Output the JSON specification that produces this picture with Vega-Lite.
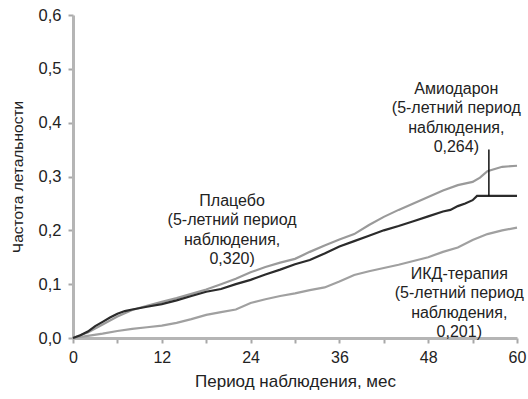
{
  "$schema": "https://vega.github.io/schema/vega-lite/v6.json",
  "width": 444,
  "height": 323,
  "autosize": "none",
  "padding": {"left": 73, "top": 15, "right": 11, "bottom": 61},
  "config": {
    "view": {"stroke": null},
    "font": "Liberation Sans",
    "axis": {
      "domainColor": "#b5b5b5", "domainWidth": 3,
      "tickColor": "#a8a8a8", "tickWidth": 2, "tickSize": 5,
      "labelFont": "Liberation Sans", "labelFontSize": 16, "labelColor": "#222",
      "titleFont": "Liberation Sans", "titleFontSize": 17, "titleFontWeight": "normal", "titleColor": "#222",
      "grid": false
    }
  },
  "datasets": {
    "curves": [
      {"series": "Плацебо", "month": 0, "rate": 0},
      {"series": "Плацебо", "month": 2, "rate": 0.01},
      {"series": "Плацебо", "month": 4, "rate": 0.025},
      {"series": "Плацебо", "month": 6, "rate": 0.04},
      {"series": "Плацебо", "month": 8, "rate": 0.052},
      {"series": "Плацебо", "month": 10, "rate": 0.06},
      {"series": "Плацебо", "month": 12, "rate": 0.067},
      {"series": "Плацебо", "month": 14, "rate": 0.074},
      {"series": "Плацебо", "month": 16, "rate": 0.082},
      {"series": "Плацебо", "month": 18, "rate": 0.09},
      {"series": "Плацебо", "month": 20, "rate": 0.1},
      {"series": "Плацебо", "month": 22, "rate": 0.11},
      {"series": "Плацебо", "month": 24, "rate": 0.122},
      {"series": "Плацебо", "month": 26, "rate": 0.132},
      {"series": "Плацебо", "month": 28, "rate": 0.14},
      {"series": "Плацебо", "month": 30, "rate": 0.147},
      {"series": "Плацебо", "month": 32, "rate": 0.16},
      {"series": "Плацебо", "month": 34, "rate": 0.172},
      {"series": "Плацебо", "month": 36, "rate": 0.183},
      {"series": "Плацебо", "month": 38, "rate": 0.193},
      {"series": "Плацебо", "month": 40, "rate": 0.21},
      {"series": "Плацебо", "month": 42, "rate": 0.225},
      {"series": "Плацебо", "month": 44, "rate": 0.238},
      {"series": "Плацебо", "month": 46, "rate": 0.25},
      {"series": "Плацебо", "month": 48, "rate": 0.262},
      {"series": "Плацебо", "month": 50, "rate": 0.274},
      {"series": "Плацебо", "month": 52, "rate": 0.284},
      {"series": "Плацебо", "month": 54, "rate": 0.29},
      {"series": "Плацебо", "month": 55, "rate": 0.298},
      {"series": "Плацебо", "month": 56, "rate": 0.31},
      {"series": "Плацебо", "month": 58, "rate": 0.318},
      {"series": "Плацебо", "month": 60, "rate": 0.32},
      {"series": "ИКД", "month": 0, "rate": 0},
      {"series": "ИКД", "month": 2, "rate": 0.004},
      {"series": "ИКД", "month": 4, "rate": 0.008},
      {"series": "ИКД", "month": 6, "rate": 0.013},
      {"series": "ИКД", "month": 8, "rate": 0.017},
      {"series": "ИКД", "month": 10, "rate": 0.02},
      {"series": "ИКД", "month": 12, "rate": 0.023},
      {"series": "ИКД", "month": 14, "rate": 0.028},
      {"series": "ИКД", "month": 16, "rate": 0.035},
      {"series": "ИКД", "month": 18, "rate": 0.043},
      {"series": "ИКД", "month": 20, "rate": 0.048},
      {"series": "ИКД", "month": 22, "rate": 0.053},
      {"series": "ИКД", "month": 24, "rate": 0.065},
      {"series": "ИКД", "month": 26, "rate": 0.072},
      {"series": "ИКД", "month": 28, "rate": 0.078},
      {"series": "ИКД", "month": 30, "rate": 0.083},
      {"series": "ИКД", "month": 32, "rate": 0.089},
      {"series": "ИКД", "month": 34, "rate": 0.094},
      {"series": "ИКД", "month": 36, "rate": 0.105},
      {"series": "ИКД", "month": 38, "rate": 0.117},
      {"series": "ИКД", "month": 40, "rate": 0.124},
      {"series": "ИКД", "month": 42, "rate": 0.13},
      {"series": "ИКД", "month": 44, "rate": 0.136},
      {"series": "ИКД", "month": 46, "rate": 0.143},
      {"series": "ИКД", "month": 48, "rate": 0.15},
      {"series": "ИКД", "month": 50, "rate": 0.16},
      {"series": "ИКД", "month": 52, "rate": 0.168},
      {"series": "ИКД", "month": 54, "rate": 0.182},
      {"series": "ИКД", "month": 56, "rate": 0.193},
      {"series": "ИКД", "month": 58, "rate": 0.2},
      {"series": "ИКД", "month": 60, "rate": 0.205},
      {"series": "Амиодарон", "month": 0, "rate": 0},
      {"series": "Амиодарон", "month": 1, "rate": 0.005},
      {"series": "Амиодарон", "month": 2, "rate": 0.012},
      {"series": "Амиодарон", "month": 3, "rate": 0.022},
      {"series": "Амиодарон", "month": 4, "rate": 0.03},
      {"series": "Амиодарон", "month": 5, "rate": 0.038},
      {"series": "Амиодарон", "month": 6, "rate": 0.045},
      {"series": "Амиодарон", "month": 7, "rate": 0.05},
      {"series": "Амиодарон", "month": 8, "rate": 0.053},
      {"series": "Амиодарон", "month": 10, "rate": 0.058},
      {"series": "Амиодарон", "month": 12, "rate": 0.063},
      {"series": "Амиодарон", "month": 14, "rate": 0.07},
      {"series": "Амиодарон", "month": 16, "rate": 0.078},
      {"series": "Амиодарон", "month": 18, "rate": 0.086},
      {"series": "Амиодарон", "month": 20, "rate": 0.091},
      {"series": "Амиодарон", "month": 22, "rate": 0.1},
      {"series": "Амиодарон", "month": 24, "rate": 0.108},
      {"series": "Амиодарон", "month": 26, "rate": 0.118},
      {"series": "Амиодарон", "month": 28, "rate": 0.127},
      {"series": "Амиодарон", "month": 30, "rate": 0.137},
      {"series": "Амиодарон", "month": 32, "rate": 0.145},
      {"series": "Амиодарон", "month": 34, "rate": 0.157},
      {"series": "Амиодарон", "month": 36, "rate": 0.17},
      {"series": "Амиодарон", "month": 38, "rate": 0.18},
      {"series": "Амиодарон", "month": 40, "rate": 0.19},
      {"series": "Амиодарон", "month": 42, "rate": 0.2},
      {"series": "Амиодарон", "month": 44, "rate": 0.208},
      {"series": "Амиодарон", "month": 46, "rate": 0.217},
      {"series": "Амиодарон", "month": 48, "rate": 0.226},
      {"series": "Амиодарон", "month": 50, "rate": 0.235},
      {"series": "Амиодарон", "month": 51, "rate": 0.238},
      {"series": "Амиодарон", "month": 52, "rate": 0.245},
      {"series": "Амиодарон", "month": 53, "rate": 0.25},
      {"series": "Амиодарон", "month": 54, "rate": 0.256},
      {"series": "Амиодарон", "month": 54.6, "rate": 0.264},
      {"series": "Амиодарон", "month": 60, "rate": 0.264}
    ],
    "labels": [
      {"month": 21.5, "rate": 0.27, "text": ["Плацебо", "(5-летний период", "наблюдения,", "0,320)"]},
      {"month": 51.8, "rate": 0.478, "text": ["Амиодарон", "(5-летний период", "наблюдения,", "0,264)"]},
      {"month": 52.2, "rate": 0.134, "text": ["ИКД-терапия", "(5-летний период", "наблюдения,", "0,201)"]}
    ],
    "pointer": [
      {"month": 56.2, "rate": 0.264, "rate2": 0.35}
    ]
  },
  "layer": [
    {
      "data": {"name": "curves"},
      "mark": {"type": "line", "strokeWidth": 2.2, "interpolate": "linear"},
      "encoding": {
        "x": {
          "field": "month", "type": "quantitative",
          "scale": {"domain": [0, 60], "nice": false, "zero": true},
          "axis": {
            "title": "Период наблюдения, мес",
            "values": [0, 6, 12, 18, 24, 30, 36, 42, 48, 54, 60],
            "labelExpr": "datum.value % 12 == 0 ? datum.label : ''",
            "labelPadding": 6, "titlePadding": 8, "labelFlush": false
          }
        },
        "y": {
          "field": "rate", "type": "quantitative",
          "scale": {"domain": [0, 0.6], "nice": false},
          "axis": {
            "title": "Частота летальности",
            "titleFontSize": 15.5,
            "values": [0, 0.1, 0.2, 0.3, 0.4, 0.5, 0.6],
            "labelExpr": "replace(format(datum.value, '.1f'), '.', ',')",
            "labelFontSize": 16.5,
            "labelPadding": 7, "titlePadding": 13, "labelFlush": false
          }
        },
        "detail": {"field": "series"},
        "color": {
          "field": "series", "type": "nominal",
          "scale": {"domain": ["Плацебо", "ИКД", "Амиодарон"], "range": ["#9a9a9a", "#a0a0a0", "#2b2b2b"]},
          "legend": null
        },
        "order": {"field": "month"}
      }
    },
    {
      "data": {"name": "pointer"},
      "mark": {"type": "rule", "color": "#111", "strokeWidth": 1.5},
      "encoding": {
        "x": {"field": "month", "type": "quantitative"},
        "y": {"field": "rate", "type": "quantitative"},
        "y2": {"field": "rate2"}
      }
    },
    {
      "data": {"name": "labels"},
      "mark": {"type": "text", "align": "center", "baseline": "top", "fontSize": 16, "lineHeight": 19.5, "color": "#222", "font": "Liberation Sans"},
      "encoding": {
        "x": {"field": "month", "type": "quantitative"},
        "y": {"field": "rate", "type": "quantitative"},
        "text": {"field": "text"}
      }
    }
  ]
}
